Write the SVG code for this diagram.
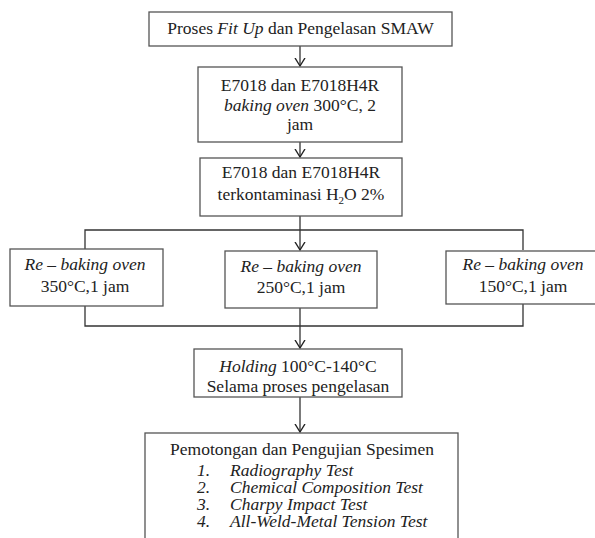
<svg xmlns="http://www.w3.org/2000/svg" width="595" height="538" viewBox="0 0 595 538">
<defs>
<marker id="arr" markerUnits="userSpaceOnUse" markerWidth="16" markerHeight="16" viewBox="-8 -8 16 16" refX="0" refY="0" orient="auto">
<path d="M-8,-5 L0,0 L-8,5" fill="none" stroke="#222" stroke-width="1.4"/>
</marker>
</defs>
<style>
.box{fill:#fff;stroke:#555;stroke-width:1.3}
.ln{fill:none;stroke:#333;stroke-width:1.3}
text{font-family:"Liberation Serif","Times New Roman",serif;font-size:17.5px;fill:#222}
.c{text-anchor:middle}
.i{font-style:italic}
</style>
<rect width="595" height="538" fill="#fff"/>
<g id="connectors">
<line class="ln" x1="300" y1="46" x2="300" y2="66" marker-end="url(#arr)"/>
<line class="ln" x1="300" y1="142" x2="300" y2="157" marker-end="url(#arr)"/>
<line class="ln" x1="300" y1="216" x2="300" y2="250" marker-end="url(#arr)"/>
<polyline class="ln" points="85,249 85,230 523,230 523,250"/>
<polyline class="ln" points="85,306 85,326 523,326 523,304"/>
<line class="ln" x1="300" y1="308" x2="300" y2="348" marker-end="url(#arr)"/>
<line class="ln" x1="300" y1="397" x2="300" y2="432" marker-end="url(#arr)"/>
</g>
<g id="n1">
<rect class="box" x="149" y="12" width="303" height="34"/>
<text class="c" x="300.5" y="34">Proses <tspan class="i">Fit Up</tspan> dan Pengelasan SMAW</text>
</g>
<g id="n2">
<rect class="box" x="198" y="67" width="204" height="75"/>
<text class="c" x="300" y="91">E7018 dan E7018H4R</text>
<text class="c" x="300" y="110.5"><tspan class="i">baking oven</tspan> 300°C, 2</text>
<text class="c" x="300" y="129.5">jam</text>
</g>
<g id="n3">
<rect class="box" x="200" y="158" width="202" height="58"/>
<text class="c" x="301" y="178">E7018 dan E7018H4R</text>
<text class="c" x="301" y="200">terkontaminasi H<tspan font-size="11" dy="4">2</tspan><tspan dy="-4">O 2%</tspan></text>
</g>
<g id="n4">
<rect class="box" x="10" y="249" width="153" height="57"/>
<text class="c" x="85" y="270"><tspan class="i">Re</tspan> – <tspan class="i">baking oven</tspan></text>
<text class="c" x="85" y="292">350°C,1 jam</text>
</g>
<g id="n5">
<rect class="box" x="225" y="251" width="152" height="57"/>
<text class="c" x="301" y="272"><tspan class="i">Re</tspan> – <tspan class="i">baking oven</tspan></text>
<text class="c" x="301" y="293">250°C,1 jam</text>
</g>
<g id="n6">
<rect class="box" x="446" y="251" width="160" height="53"/>
<text class="c" x="523" y="270"><tspan class="i">Re</tspan> – <tspan class="i">baking oven</tspan></text>
<text class="c" x="523" y="292">150°C,1 jam</text>
</g>
<g id="n7">
<rect class="box" x="194" y="349" width="208" height="48"/>
<text class="c" x="298" y="372"><tspan class="i">Holding</tspan> 100°C-140°C</text>
<text class="c" x="298" y="392">Selama proses pengelasan</text>
</g>
<g id="n8">
<rect class="box" x="145" y="433" width="313" height="120"/>
<text class="c" x="302" y="455">Pemotongan dan Pengujian Spesimen</text>
<text class="i"><tspan x="197" y="476">1.</tspan><tspan x="230" y="476">Radiography Test</tspan><tspan x="197" y="493">2.</tspan><tspan x="230" y="493">Chemical Composition Test</tspan><tspan x="197" y="510">3.</tspan><tspan x="230" y="510">Charpy Impact Test</tspan><tspan x="197" y="527">4.</tspan><tspan x="230" y="527">All-Weld-Metal Tension Test</tspan></text>
</g>
</svg>
